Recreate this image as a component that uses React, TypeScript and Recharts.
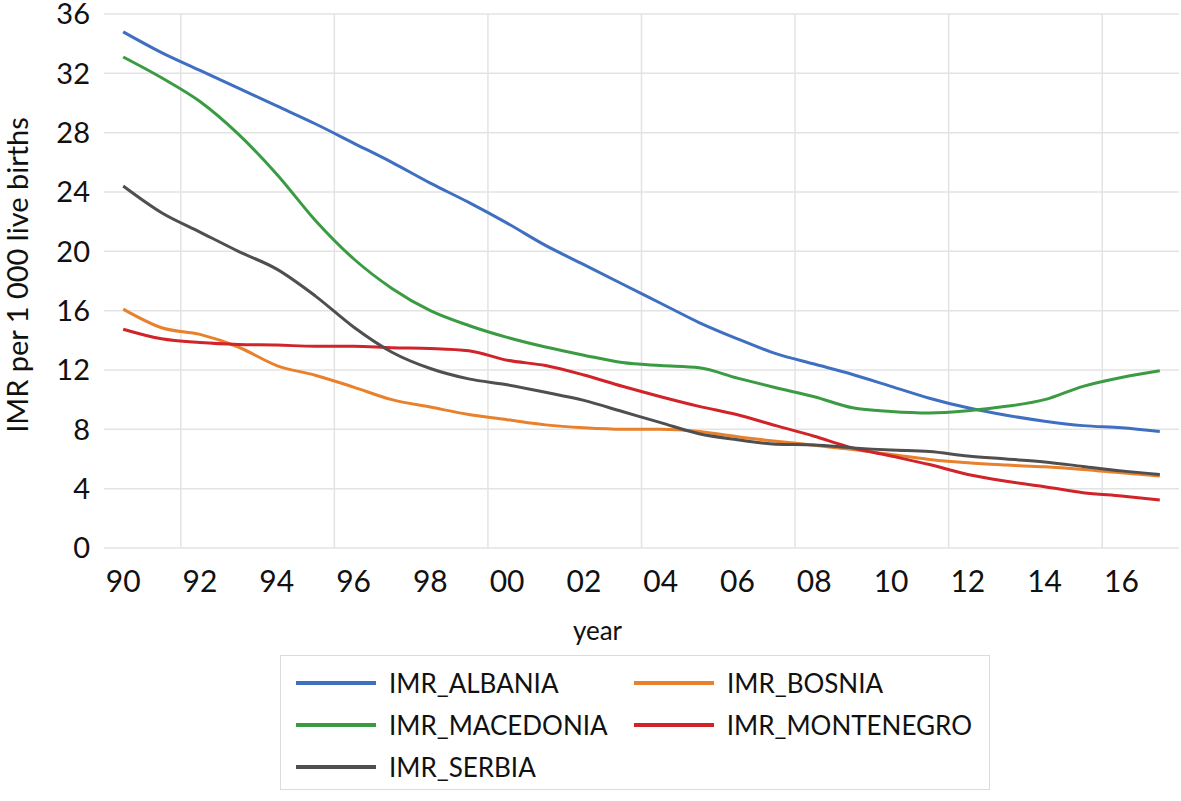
import React from 'react';
import {
    LineChart,
    Line,
    XAxis,
    YAxis,
    CartesianGrid,
    ReferenceLine,
    Legend
} from 'recharts';

const FONT = 'Lato, "Open Sans", sans-serif';

// years on the category axis (1990 - 2017)
const YEARS = [
    1990, 1991, 1992, 1993, 1994, 1995, 1996, 1997, 1998, 1999,
    2000, 2001, 2002, 2003, 2004, 2005, 2006, 2007, 2008, 2009,
    2010, 2011, 2012, 2013, 2014, 2015, 2016, 2017
];

// IMR per 1 000 live births
const ALBANIA = [
    34.8, 33.4, 32.2, 31.0, 29.8, 28.6, 27.3, 26.0, 24.6, 23.3,
    21.9, 20.4, 19.1, 17.8, 16.5, 15.2, 14.1, 13.1, 12.4, 11.7,
    10.9, 10.1, 9.45, 8.95, 8.55, 8.25, 8.1, 7.85
];
const BOSNIA = [
    16.1, 14.85, 14.4, 13.55, 12.3, 11.65, 10.85, 10.0, 9.5, 9.0,
    8.65, 8.3, 8.1, 8.0, 8.0, 7.85, 7.5, 7.2, 6.93, 6.64,
    6.3, 5.97, 5.74, 5.59, 5.47, 5.3, 5.07, 4.85
];
const MACEDONIA = [
    33.1, 31.7, 30.1, 27.9, 25.2, 22.1, 19.5, 17.5, 16.0, 15.0,
    14.2, 13.55, 13.0, 12.5, 12.3, 12.15, 11.45, 10.8, 10.2, 9.45,
    9.2, 9.1, 9.25, 9.55, 10.0, 10.9, 11.5, 11.95
];
const MONTENEGRO = [
    14.75, 14.1, 13.85, 13.72, 13.68, 13.6, 13.6, 13.5, 13.45, 13.3,
    12.66, 12.3, 11.66, 10.9, 10.2, 9.55, 8.98, 8.25, 7.53, 6.75,
    6.2, 5.63, 4.96, 4.5, 4.13, 3.73, 3.5, 3.24
];
const SERBIA = [
    24.4, 22.6, 21.3, 20.0, 18.8, 17.0, 14.9, 13.2, 12.1, 11.4,
    11.0, 10.5, 9.95, 9.2, 8.45, 7.7, 7.3, 7.0, 6.95, 6.75,
    6.6, 6.5, 6.2, 6.0, 5.8, 5.5, 5.2, 4.95
];

const X_TICKS = [1990, 1992, 1994, 1996, 1998, 2000, 2002, 2004, 2006, 2008, 2010, 2012, 2014, 2016];
const Y_TICKS = [0, 4, 8, 12, 16, 20, 24, 28, 32, 36];
// vertical gridlines sit on category boundaries, every 4 years
const GRID_X = [1991.5, 1995.5, 1999.5, 2003.5, 2007.5, 2011.5, 2015.5];

const SERIES = [
    { key: 'IMR_ALBANIA', values: ALBANIA, color: '#3f6fc1' },
    { key: 'IMR_BOSNIA', values: BOSNIA, color: '#e8802c' },
    { key: 'IMR_MACEDONIA', values: MACEDONIA, color: '#3a9b42' },
    { key: 'IMR_MONTENEGRO', values: MONTENEGRO, color: '#d1232a' },
    { key: 'IMR_SERBIA', values: SERBIA, color: '#4f4f4f' }
];

const data = YEARS.map((year, i) => {
    const row: Record<string, number> = { year };
    SERIES.forEach(s => { row[s.key] = s.values[i]; });
    return row;
});

const GRID = '#e3e3e3';

const LegendBox = ({ payload }: any) => (
    <div
        style={{
            boxSizing: 'border-box',
            width: 710,
            height: 135,
            border: '1.5px solid #dcdcdc',
            padding: '6px 0 0 15px',
            display: 'grid',
            gridTemplateColumns: '338px 338px',
            gridAutoRows: 42,
            fontFamily: FONT,
            fontSize: 26,
            color: '#111'
        }}
    >
        {(payload || []).map((p: any) => (
            <div key={p.value} style={{ display: 'flex', alignItems: 'center' }}>
                <span style={{ display: 'inline-block', width: 80, height: 4, background: p.color, marginRight: 13 }} />
                <span>{p.value}</span>
            </div>
        ))}
    </div>
);

const YLabel = ({ viewBox }: any) => {
    const cy = viewBox.y + viewBox.height / 2 - 6;
    return (
        <text
            x={16}
            y={cy}
            transform={`rotate(-90, 16, ${cy})`}
            textAnchor="middle"
            dominantBaseline="central"
            style={{ fontFamily: FONT, fontSize: 29, fill: '#111' }}
        >
            IMR per 1 000 live births
        </text>
    );
};

const XLabel = ({ viewBox }: any) => (
    <text
        x={viewBox.x + viewBox.width / 2 - 44}
        y={viewBox.y + 82}
        textAnchor="middle"
        dominantBaseline="central"
        style={{ fontFamily: FONT, fontSize: 26, fill: '#111' }}
    >
        year
    </text>
);

export default function App() {
    return (
        <div style={{ position: 'absolute', left: 0, top: 0, width: 1181, height: 801, background: '#fff' }}>
            <LineChart
                width={1181}
                height={801}
                data={data}
                margin={{ top: 14, right: 2, bottom: 18, left: 0 }}
            >
                <CartesianGrid vertical={false} stroke={GRID} strokeWidth={1.5} />
                {GRID_X.map(x => (
                    <ReferenceLine key={x} x={x} stroke={GRID} strokeWidth={1.5} />
                ))}
                <XAxis
                    dataKey="year"
                    type="number"
                    domain={[1989.5, 2017.5]}
                    ticks={X_TICKS}
                    interval={0}
                    tickFormatter={(v: number) => String(v).slice(2)}
                    axisLine={false}
                    tickLine={false}
                    tickSize={0}
                    tickMargin={23}
                    height={100}
                    tick={{ fontFamily: FONT, fontSize: 30, fill: '#111' }}
                    label={<XLabel />}
                />
                <YAxis
                    domain={[0, 36]}
                    ticks={Y_TICKS}
                    interval={0}
                    axisLine={false}
                    tickLine={false}
                    tickSize={0}
                    tickMargin={14}
                    width={104}
                    tick={{ fontFamily: FONT, fontSize: 29, fill: '#111' }}
                    label={<YLabel />}
                />
                <Legend
                    content={<LegendBox />}
                    wrapperStyle={{ left: 280, top: 655, bottom: 'auto', width: 710, height: 135 }}
                />
                {SERIES.map(s => (
                    <Line
                        key={s.key}
                        type="monotone"
                        dataKey={s.key}
                        name={s.key}
                        stroke={s.color}
                        strokeWidth={3}
                        dot={false}
                        isAnimationActive={false}
                    />
                ))}
            </LineChart>
        </div>
    );
}
